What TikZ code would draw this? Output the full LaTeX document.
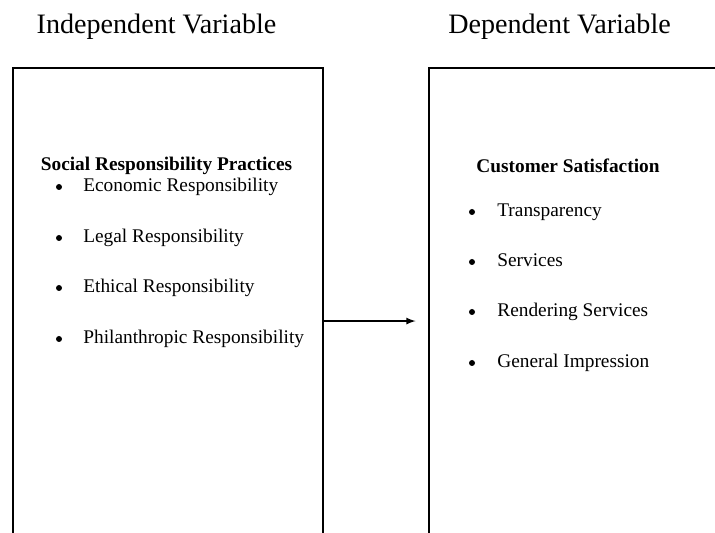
\documentclass[tikz,border=0pt]{standalone}
\usepackage{fontspec}
\setmainfont{Liberation Serif}

\tikzset{
    varbox/.style={draw, line width=1.2pt, minimum width=6.2cm, minimum height=10.12cm, anchor=north west},
    heading/.style={font=\fontsize{16}{19}\selectfont},
    boxtitle/.style={font=\fontsize{11}{13}\selectfont\bfseries},
    item/.style={font=\fontsize{11}{13}\selectfont, anchor=west, inner sep=0pt, text height=1.6ex, text depth=0.45ex},
    dot/.style={circle, fill, inner sep=0pt, minimum size=0.12cm}
}

\begin{document}
\begin{tikzpicture}
    \clip (0,0) rectangle (14.3,10.66);
    \useasboundingbox (0,0) rectangle (14.3,10.66);
    % column headings
    \node[heading] (indephead) at (3.13,10.12) {Independent Variable};
    \node[heading] (dephead) at (11.19,10.12) {Dependent Variable};
    % the two boxes, open at the bottom
    \node[varbox] (indep) at (0.23,9.32) {};
    \node[varbox, minimum width=6.4cm] (dep) at (8.56,9.32) {};
    \node[boxtitle] (indeptitle) at (3.33,7.34) {Social Responsibility Practices};
    \node[boxtitle] (deptitle) at (11.36,7.34) {Customer Satisfaction};
    % bullet lists
    \foreach \y/\txt/\n in {6.92/Economic Responsibility/1, 5.90/Legal Responsibility/2,
        4.90/Ethical Responsibility/3, 3.88/Philanthropic Responsibility/4}
    {
    \node[dot] (ib\n) at (1.18,\y) {};
    \node[item] (it\n) at (1.66,\y) {\txt};
    }
    \foreach \y/\txt/\n in {6.42/Transparency/1, 5.42/Services/2,
        4.42/Rendering Services/3, 3.40/General Impression/4}
    {
    \node[dot] (db\n) at (9.44,\y) {};
    \node[item] (dt\n) at (9.94,\y) {\txt};
    }
    % link
    \draw[-latex, line width=0.8pt, shorten >=0.25cm] (indep.east) -- (dep.west);
\end{tikzpicture}
\end{document}
